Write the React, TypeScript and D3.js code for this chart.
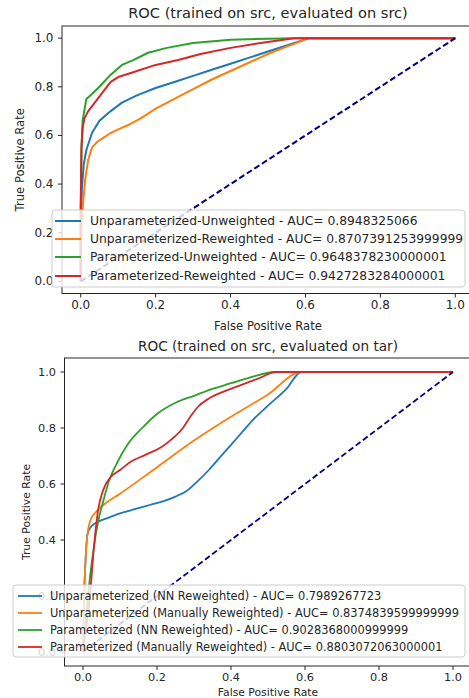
import React from 'react';
import * as d3 from 'd3';

// ROC curves, trained on src / evaluated on src  ([fpr, tpr])
const srcUnparamUnweighted: [number, number][] = [
  [0, 0], [0, 0.2], [0.003, 0.38], [0.008, 0.48], [0.015, 0.54], [0.03, 0.61], [0.05, 0.66],
  [0.08, 0.7], [0.11, 0.735], [0.15, 0.765], [0.2, 0.795], [0.25, 0.82], [0.3, 0.845],
  [0.35, 0.87], [0.4, 0.895], [0.45, 0.92], [0.5, 0.945], [0.55, 0.97], [0.61, 1], [1, 1],
];
const srcUnparamReweighted: [number, number][] = [
  [0, 0], [0, 0.15], [0.005, 0.3], [0.012, 0.42], [0.02, 0.5], [0.03, 0.55], [0.045, 0.575],
  [0.06, 0.59], [0.08, 0.61], [0.1, 0.625], [0.13, 0.645], [0.16, 0.67], [0.2, 0.71],
  [0.25, 0.75], [0.3, 0.79], [0.35, 0.83], [0.4, 0.865], [0.45, 0.9], [0.5, 0.935],
  [0.55, 0.965], [0.61, 1], [1, 1],
];
const srcParamUnweighted: [number, number][] = [
  [0, 0], [0, 0.3], [0.002, 0.55], [0.005, 0.66], [0.015, 0.75], [0.03, 0.77], [0.05, 0.8],
  [0.08, 0.85], [0.11, 0.89], [0.14, 0.91], [0.18, 0.94], [0.23, 0.96], [0.3, 0.98],
  [0.4, 0.993], [0.5, 0.998], [0.57, 1], [1, 1],
];
const srcParamReweighted: [number, number][] = [
  [0, 0], [0, 0.3], [0.002, 0.55], [0.005, 0.63], [0.01, 0.67], [0.02, 0.7], [0.04, 0.74],
  [0.06, 0.78], [0.08, 0.82], [0.1, 0.84], [0.14, 0.86], [0.2, 0.89], [0.26, 0.91],
  [0.32, 0.935], [0.4, 0.96], [0.48, 0.98], [0.57, 1], [1, 1],
];
const srcLabels = [
  'Unparameterized-Unweighted - AUC= 0.8948325066',
  'Unparameterized-Reweighted - AUC= 0.8707391253999999',
  'Parameterized-Unweighted - AUC= 0.9648378230000001',
  'Parameterized-Reweighted - AUC= 0.9427283284000001',
];

// trained on src / evaluated on tar
const tarUnparamNN: [number, number][] = [
  [0, 0], [0.003, 0.2], [0.007, 0.33], [0.012, 0.42], [0.02, 0.445], [0.04, 0.465],
  [0.07, 0.48], [0.1, 0.495], [0.14, 0.51], [0.18, 0.525], [0.22, 0.54], [0.25, 0.555],
  [0.28, 0.575], [0.31, 0.61], [0.34, 0.65], [0.37, 0.695], [0.4, 0.74], [0.43, 0.785],
  [0.46, 0.83], [0.5, 0.88], [0.55, 0.94], [0.59, 1], [1, 1],
];
const tarUnparamManual: [number, number][] = [
  [0, 0], [0.003, 0.2], [0.007, 0.33], [0.012, 0.42], [0.02, 0.47], [0.035, 0.5],
  [0.055, 0.525], [0.1, 0.565], [0.2, 0.66], [0.3, 0.755], [0.4, 0.84], [0.5, 0.92],
  [0.59, 1], [1, 1],
];
const tarParamNN: [number, number][] = [
  [0, 0], [0.01, 0.15], [0.02, 0.28], [0.03, 0.38], [0.04, 0.46], [0.055, 0.54], [0.07, 0.61],
  [0.09, 0.67], [0.12, 0.74], [0.16, 0.8], [0.2, 0.85], [0.25, 0.89], [0.3, 0.915],
  [0.35, 0.94], [0.4, 0.96], [0.45, 0.98], [0.52, 1], [1, 1],
];
const tarParamManual: [number, number][] = [
  [0, 0], [0.01, 0.1], [0.02, 0.22], [0.03, 0.38], [0.04, 0.5], [0.055, 0.58], [0.075, 0.625],
  [0.1, 0.65], [0.13, 0.68], [0.17, 0.705], [0.21, 0.73], [0.24, 0.76], [0.27, 0.8],
  [0.29, 0.84], [0.31, 0.875], [0.34, 0.905], [0.38, 0.93], [0.43, 0.955], [0.48, 0.98],
  [0.52, 1], [1, 1],
];
const tarLabels = [
  'Unparameterized (NN Reweighted) - AUC= 0.7989267723',
  'Unparameterized (Manually Reweighted) - AUC= 0.8374839599999999',
  'Parameterized (NN Reweighted) - AUC= 0.9028368000999999',
  'Parameterized (Manually Reweighted) - AUC= 0.8803072063000001',
];

const ticks = [0, 0.2, 0.4, 0.6, 0.8, 1.0];
const chance: [number, number][] = [[0, 0], [1, 1]];
const colors = ['#1f77b4', '#ff7f0e', '#2ca02c', '#d62728'];

const FONT = '"DejaVu Sans", sans-serif';
const INK = '#262626';

type Cfg = {
  id: string;
  title: string;
  series: [number, number][][];
  labels: string[];
  ax: { l: number; r: number; t: number; b: number };
  titleY: number; titleSize: number;
  tickSize: number; labelSize: number;
  xLabelY: number; yLabelX: number;
  lw: number;
  smooth: boolean;
  legend: { x: number; y: number; w: number; h: number; h0: number; h1: number; tx: number; rows: number[]; size: number };
};

function RocPanel({ c }: { c: Cfg }) {
  const x = d3.scaleLinear().domain([-0.05, 1.05]).range([c.ax.l, c.ax.r]);
  const y = d3.scaleLinear().domain([-0.05, 1.05]).range([c.ax.b, c.ax.t]);
  const line = d3.line<[number, number]>()
    .x(d => x(d[0]))
    .y(d => y(d[1]))
    .curve(c.smooth ? d3.curveMonotoneX : d3.curveLinear);
  const cx = (c.ax.l + c.ax.r) / 2;
  const cy = (c.ax.t + c.ax.b) / 2;
  const lg = c.legend;

  return (
    <g fontFamily={FONT} fill={INK}>
      <defs>
        <clipPath id={c.id}>
          <rect x={c.ax.l} y={c.ax.t} width={c.ax.r - c.ax.l} height={c.ax.b - c.ax.t} />
        </clipPath>
      </defs>
      <text x={cx} y={c.titleY} textAnchor="middle" dominantBaseline="middle" fontSize={c.titleSize}>{c.title}</text>

      {ticks.map(t => (
        <g key={'x' + t}>
          <line x1={x(t)} x2={x(t)} y1={c.ax.b} y2={c.ax.b + 4} stroke={INK} strokeWidth={1} />
          <text x={x(t)} y={c.ax.b + 6.5} textAnchor="middle" dominantBaseline="hanging" fontSize={c.tickSize}>{t.toFixed(1)}</text>
        </g>
      ))}
      {ticks.map(t => (
        <g key={'y' + t}>
          <line x1={c.ax.l - 4} x2={c.ax.l} y1={y(t)} y2={y(t)} stroke={INK} strokeWidth={1} />
          <text x={c.ax.l - 8.5} y={y(t)} textAnchor="end" dominantBaseline="central" fontSize={c.tickSize}>{t.toFixed(1)}</text>
        </g>
      ))}
      <text x={cx} y={c.xLabelY} textAnchor="middle" dominantBaseline="middle" fontSize={c.labelSize}>False Positive Rate</text>
      <text transform={`translate(${c.yLabelX},${cy}) rotate(-90)`} textAnchor="middle" dominantBaseline="middle" fontSize={c.labelSize}>True Positive Rate</text>

      <g clipPath={`url(#${c.id})`} fill="none">
        {c.series.map((s, i) => (
          <path key={i} d={line(s) || ''} stroke={colors[i]} strokeWidth={c.lw} strokeLinejoin="round" />
        ))}
        <path d={d3.line<[number, number]>().x(d => x(d[0])).y(d => y(d[1]))(chance) || ''}
          stroke="navy" strokeWidth={c.lw} strokeDasharray="6,3" />
      </g>
      <rect x={c.ax.l} y={c.ax.t} width={c.ax.r - c.ax.l} height={c.ax.b - c.ax.t} fill="none" stroke={INK} strokeWidth={1} />

      <rect x={lg.x} y={lg.y} width={lg.w} height={lg.h} rx={3} fill="white" fillOpacity={0.8} stroke="#cccccc" strokeWidth={1} />
      {c.labels.map((lab, i) => (
        <g key={lab}>
          <line x1={lg.h0} x2={lg.h1} y1={lg.rows[i]} y2={lg.rows[i]} stroke={colors[i]} strokeWidth={c.lw} />
          <text x={lg.tx} y={lg.rows[i]} dominantBaseline="central" fontSize={lg.size}>{lab}</text>
        </g>
      ))}
    </g>
  );
}

const topCfg: Cfg = {
  id: 'clipTop',
  title: 'ROC (trained on src, evaluated on src)',
  series: [srcUnparamUnweighted, srcUnparamReweighted, srcParamUnweighted, srcParamReweighted],
  labels: srcLabels,
  ax: { l: 62, r: 474, t: 26, b: 293.5 },
  titleY: 14, titleSize: 14.6, tickSize: 12, labelSize: 11.6,
  xLabelY: 326, yLabelX: 20, lw: 2, smooth: false,
  legend: { x: 52, y: 210, w: 413, h: 77, h0: 55, h1: 81, tx: 90, rows: [221, 239, 257, 276], size: 12.3 },
};

const bottomCfg: Cfg = {
  id: 'clipBottom',
  title: 'ROC (trained on src, evaluated on tar)',
  series: [tarUnparamNN, tarUnparamManual, tarParamNN, tarParamManual],
  labels: tarLabels,
  ax: { l: 64.5, r: 471.5, t: 358, b: 666 },
  titleY: 347, titleSize: 13.6, tickSize: 11.3, labelSize: 10.8,
  xLabelY: 692.5, yLabelX: 27, lw: 1.8, smooth: true,
  legend: { x: 13, y: 585, w: 452, h: 72, h0: 18, h1: 42, tx: 50, rows: [596, 613, 630, 647], size: 11.4 },
};

export default function App() {
  return (
    <svg width={469} height={698} style={{ position: 'absolute', left: 0, top: 0, background: 'white' }}>
      <RocPanel c={topCfg} />
      <RocPanel c={bottomCfg} />
    </svg>
  );
}
